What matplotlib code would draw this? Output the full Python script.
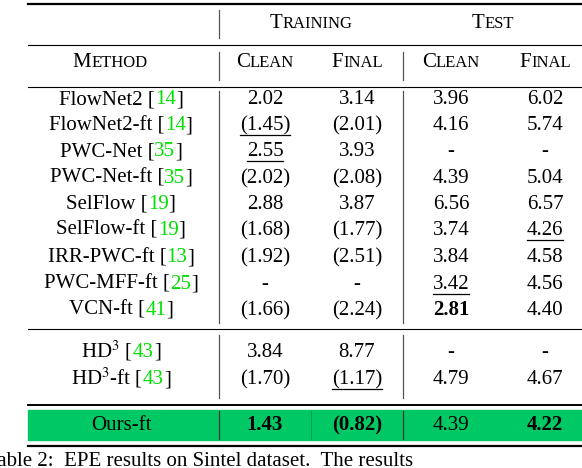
import matplotlib.pyplot as plt

plt.rcParams['font.family'] = ['Liberation Serif', 'DejaVu Serif']
plt.rcParams['mathtext.fontset'] = 'stix'

methods = ["FlowNet2", "FlowNet2-ft", "PWC-Net", "PWC-Net-ft", "SelFlow", "SelFlow-ft",
           "IRR-PWC-ft", "PWC-MFF-ft", "VCN-ft", "HD$^3$", "HD$^3$-ft", "Ours-ft"]
cites = ["14", "14", "35", "35", "19", "19", "13", "25", "41", "43", "43", ""]
train_clean = ["2.02", "(1.45)", "2.55", "(2.02)", "2.88", "(1.68)", "(1.92)", "-", "(1.66)", "3.84", "(1.70)", "1.43"]
train_final = ["3.14", "(2.01)", "3.93", "(2.08)", "3.87", "(1.77)", "(2.51)", "-", "(2.24)", "8.77", "(1.17)", "(0.82)"]
test_clean = ["3.96", "4.16", "-", "4.39", "6.56", "3.74", "3.84", "3.42", "2.81", "-", "4.79", "4.39"]
test_final = ["6.02", "5.74", "-", "5.04", "6.57", "4.26", "4.58", "4.56", "4.40", "-", "4.67", "4.22"]
# (row, column) marks
underlined = [(1, 0), (2, 0), (5, 3), (7, 2), (10, 1)]
bold = [(8, 2), (11, 0), (11, 1), (11, 3)]

row_y = [98, 124, 150, 177, 203, 229, 256, 283, 309, 351, 378, 424]
col_x = [265, 357, 451, 545]
FS = 15
CITE = '#00e000'

fig = plt.figure(figsize=(5.82, 4.68), dpi=100)
ax = fig.add_axes([0, 0, 1, 1])
ax.set_xlim(0, 582)
ax.set_ylim(468, 0)
ax.axis('off')
fig.canvas.draw()
renderer = fig.canvas.get_renderer()


def width_of(t):
    return t.get_window_extent(renderer).width


def pieces(xc, y, parts):
    # parts: list of (string, size, color, weight)
    texts = [ax.text(0, y, s, fontsize=sz, color=c, weight=w, va='baseline', ha='left')
             for s, sz, c, w in parts]
    ws = [width_of(t) for t in texts]
    x = xc - sum(ws) / 2
    for t, w in zip(texts, ws):
        t.set_x(x)
        x += w
    return texts


def smallcaps(xc, y, word, big=FS, small=FS * 0.8):
    pieces(xc, y, [(word[0], big, 'k', 'normal'), (word[1:].upper(), small, 'k', 'normal')])


# green band for our row
ax.add_patch(plt.Rectangle((28, 410), 554, 30, color='#00c864', zorder=0))

# horizontal rules
ax.plot([28, 582], [4, 4], color='k', lw=1.6)
ax.plot([28, 582], [45, 45], color='k', lw=0.8)
ax.plot([28, 582], [87, 87], color='k', lw=0.8)
ax.plot([28, 582], [329, 329], color='k', lw=0.8)
ax.plot([28, 582], [405, 405], color='k', lw=1.4)
ax.plot([28, 582], [446, 446], color='k', lw=1.6)

# vertical separators
ax.plot([219, 219], [10, 38], color='#555555', lw=0.9)
for x0 in [219, 403]:
    ax.plot([x0, x0], [52, 80], color='#555555', lw=0.9)
    ax.plot([x0, x0], [91, 323], color='#555555', lw=0.9)
    ax.plot([x0, x0], [335, 398], color='#555555', lw=0.9)
    ax.plot([x0, x0], [411, 439], color='#333333', lw=0.9)
ax.plot([311, 311], [411, 439], color='#009944', lw=0.6)

# headers
smallcaps(311, 28, "Training")
smallcaps(493, 28, "Test")
smallcaps(110, 67, "Method")
for x, w in zip(col_x, ["Clean", "Final", "Clean", "Final"]):
    smallcaps(x, 67, w)

cols = [train_clean, train_final, test_clean, test_final]
for i, (m, c) in enumerate(zip(methods, cites)):
    yb = row_y[i] + 6
    if c:
        pieces(121, yb, [(m + " [", FS, 'k', 'normal'), (c, FS, CITE, 'normal'), ("]", FS, 'k', 'normal')])
    else:
        pieces(121, yb, [(m, FS, 'k', 'normal')])
    for j, col in enumerate(cols):
        w = 'bold' if (i, j) in bold else 'normal'
        t = pieces(col_x[j], yb, [(col[i], FS, 'k', w)])[0]
        if (i, j) in underlined:
            bb = t.get_window_extent(renderer).transformed(ax.transData.inverted())
            ax.plot([bb.x0, bb.x1], [yb + 5, yb + 5], color='k', lw=0.9)

ax.text(-14, 466, "Table 2:  EPE results on Sintel dataset.  The results", fontsize=FS,
        va='baseline', ha='left')

fig.savefig('out.png', dpi=100)
